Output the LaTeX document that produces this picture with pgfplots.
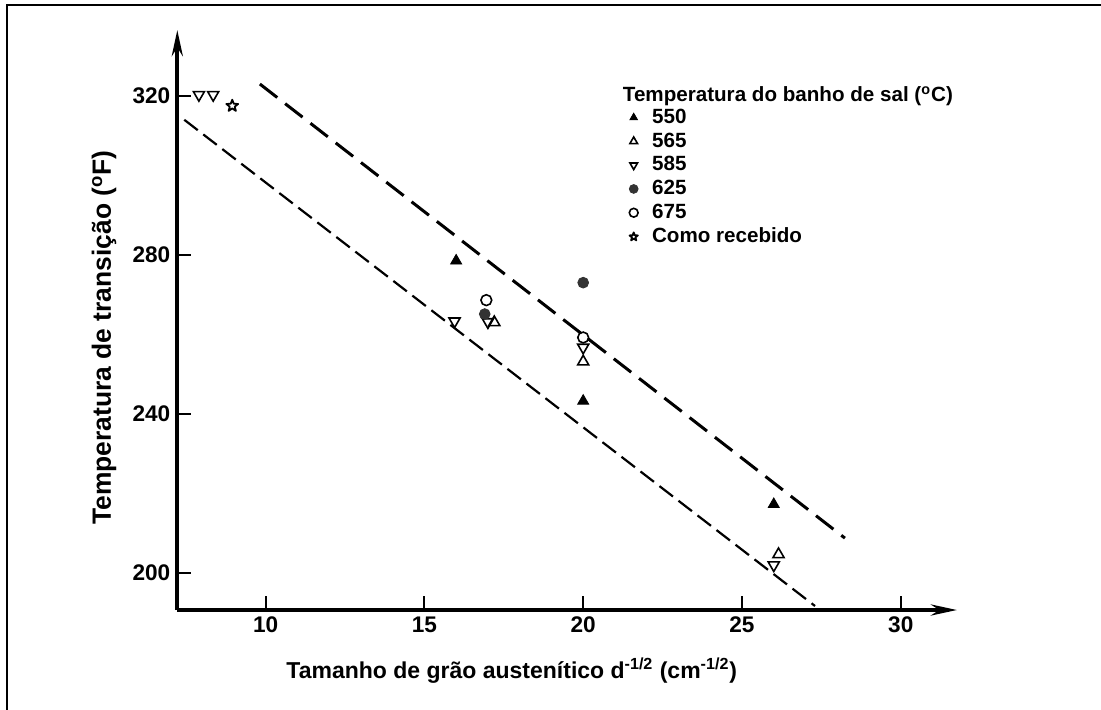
\documentclass[border=0pt]{standalone}
\usepackage{fontspec}
\setmainfont{Liberation Sans}
\usepackage{pgfplots}
\pgfplotsset{compat=1.18}
\usetikzlibrary{arrows.meta,plotmarks}

% open five-pointed star
\pgfdeclareplotmark{ostar}{%
  \pgfpathmoveto{\pgfpointpolar{90}{\pgfplotmarksize}}%
  \pgfpathlineto{\pgfpointpolar{126}{0.42\pgfplotmarksize}}%
  \pgfpathlineto{\pgfpointpolar{162}{\pgfplotmarksize}}%
  \pgfpathlineto{\pgfpointpolar{198}{0.42\pgfplotmarksize}}%
  \pgfpathlineto{\pgfpointpolar{234}{\pgfplotmarksize}}%
  \pgfpathlineto{\pgfpointpolar{270}{0.42\pgfplotmarksize}}%
  \pgfpathlineto{\pgfpointpolar{306}{\pgfplotmarksize}}%
  \pgfpathlineto{\pgfpointpolar{342}{0.42\pgfplotmarksize}}%
  \pgfpathlineto{\pgfpointpolar{18}{\pgfplotmarksize}}%
  \pgfpathlineto{\pgfpointpolar{54}{0.42\pgfplotmarksize}}%
  \pgfpathclose\pgfusepathqstroke}

\begin{document}
\begin{tikzpicture}
\useasboundingbox (0,0) rectangle (550.5pt,354.5pt);
% partial frame of the scanned page
\draw[line width=1.4pt] (3.5pt,-10pt) -- (3.5pt,352pt) -- (550.5pt,352pt);
\begin{axis}[
  at={(88.65pt,49.5pt)}, anchor=south west,
  scale only axis, width=389.85pt, height=290pt,
  xmin=7.22, xmax=31.77, ymin=190.6, ymax=336.6,
  axis lines=left,
  axis line style={line width=2pt, -{Stealth[length=13pt,width=5.5pt]}},
  xtick={10,15,20,25,30}, ytick={200,240,280,320},
  tick align=inside, major tick length=7pt,
  tick style={line width=1pt, black},
  tick label style={font=\bfseries\fontsize{11.3}{12}\selectfont},
  /pgf/number format/assume math mode=true,
  xlabel={Tamanho de grão austenítico d\textsuperscript{-1/2} (cm\textsuperscript{-1/2})},
  ylabel={Temperatura de transição (\textsuperscript{o}F)},
  xlabel style={at={(axis description cs:0.429,-0.105)}, anchor=center,
    font=\bfseries\fontsize{11.5}{14}\selectfont},
  ylabel style={at={(axis description cs:-0.094,0.47)}, anchor=center,
    font=\bfseries\fontsize{13.2}{15}\selectfont},
  legend style={draw=none, fill=none, at={(0.5715,0.875)}, anchor=north west,
    font=\bfseries\fontsize{10.3}{11}\selectfont, row sep=1.2pt,
    nodes={inner sep=1pt},
    /tikz/every odd column/.append style={column sep=6pt}},
  legend cell align=left,
  legend image post style={mark size=2.2pt},
  clip=false
]
% fitted bands
\addplot[forget plot, line width=1.5pt, dash pattern=on 11pt off 5pt]
  coordinates {(9.82,323) (28.24,208.7)};
\addplot[forget plot, line width=1.1pt, dash pattern=on 8.5pt off 3.5pt]
  coordinates {(7.44,314) (27.3,191.6)};

\addplot[only marks, mark=triangle*, mark size=3.2pt, mark options={fill=black}]
  coordinates {(16,278.5) (20,243.2) (26,217.2)};
\addlegendentry{550}
\addplot[only marks, mark=triangle, mark size=3.2pt, mark options={line width=0.8pt}]
  coordinates {(17.2,263) (20,253.1) (26.15,204.6)};
\addlegendentry{565}
\addplot[only marks, mark=triangle, mark size=3.2pt, mark options={line width=0.8pt, rotate=180}]
  coordinates {(7.9,320.3) (8.35,320.3) (15.95,263.3) (17.0,263.1) (20,256.7) (26,201.9)};
\addlegendentry{585}
\addplot[only marks, mark=*, mark size=2.7pt, mark options={fill=black!80, draw=black!80}]
  coordinates {(16.9,265.1) (20,273)};
\addlegendentry{625}
\addplot[only marks, mark=o, mark size=2.7pt, mark options={line width=0.8pt}]
  coordinates {(16.95,268.6) (20,259.2)};
\addlegendentry{675}
\addplot[only marks, mark=ostar, mark size=3.1pt, mark options={line width=0.9pt, line join=round}]
  coordinates {(8.95,317.5)};
\addlegendentry{Como recebido}

\node[anchor=west, font=\bfseries\fontsize{10.3}{11}\selectfont]
  at (axis description cs:0.5625,0.886) {Temperatura do banho de sal (\textsuperscript{o}C)};
\end{axis}
\end{tikzpicture}
\end{document}
